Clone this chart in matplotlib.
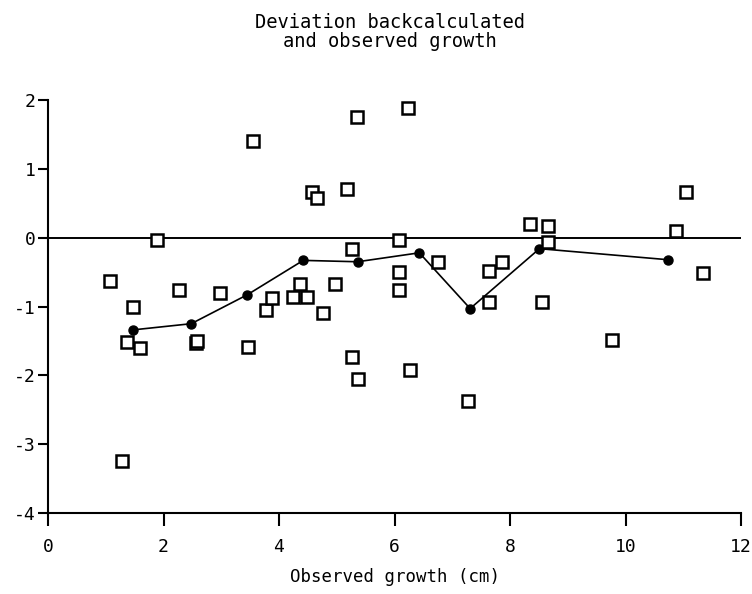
import matplotlib
matplotlib.use("Agg")
import matplotlib.pyplot as plt

# Open squares: individual observations
obs_x = [1.07, 1.47, 1.37, 1.59, 1.28, 1.89, 2.27, 2.56, 2.58, 2.98,
         3.55, 3.47, 3.78, 3.88, 4.25, 4.37, 4.49, 4.57, 4.66, 4.76,
         4.97, 5.18, 5.27, 5.35, 5.27, 5.37, 6.24, 6.07, 6.07, 6.08,
         6.27, 6.75, 7.27, 7.64, 7.87, 7.64, 8.35, 8.66, 8.66, 8.56,
         9.77, 11.04, 10.87, 11.35]
obs_y = [-0.63, -1.00, -1.51, -1.60, -3.25, -0.04, -0.76, -1.53, -1.50, -0.81,
         1.41, -1.59, -1.05, -0.87, -0.86, -0.67, -0.86, 0.66, 0.57, -1.09,
         -0.67, 0.70, -0.16, 1.75, -1.73, -2.05, 1.88, -0.03, -0.50, -0.76,
         -1.92, -0.35, -2.38, -0.48, -0.35, -0.93, 0.20, 0.17, -0.07, -0.93,
         -1.49, 0.67, 0.09, -0.51]

# Filled circles: class means joined by a line
mean_x = [1.47, 2.48, 3.45, 4.42, 5.36, 6.43, 7.31, 8.51, 10.73]
mean_y = [-1.34, -1.25, -0.83, -0.33, -0.35, -0.22, -1.03, -0.16, -0.32]

xticks = [0, 2, 4, 6, 8, 10, 12]
yticks = [-4, -3, -2, -1, 0, 1, 2]
title = "Deviation backcalculated\nand observed growth"
xlabel = "Observed growth (cm)"

plt.rcParams['font.family'] = ['DejaVu Sans Mono', 'DejaVu Sans']

fig = plt.figure(figsize=(7.52, 5.94), dpi=100)
ax = fig.add_axes([48/752, 1-513/594, (741-48)/752, (513-100)/594])

ax.axhline(0, color='black', lw=1.4, zorder=1)
ax.plot(mean_x, mean_y, color='black', lw=1.2, marker='o', ms=6.5,
        mfc='black', mec='black', zorder=3)
ax.plot(obs_x, obs_y, ls='none', marker='s', ms=8, mfc='white',
        mec='black', mew=1.8, zorder=4)

ax.set_xlim(0, 12)
ax.set_ylim(-4, 2)
ax.set_xticks(xticks)
ax.set_yticks(yticks)
ax.set_xticklabels([str(t) for t in xticks])
ax.set_yticklabels([str(t) for t in yticks])
for s in ['top', 'right']:
    ax.spines[s].set_visible(False)
for s in ['left', 'bottom']:
    ax.spines[s].set_linewidth(1.5)
ax.tick_params(axis='x', direction='out', length=9, width=1.5, pad=9, labelsize=13)
ax.tick_params(axis='y', direction='out', length=7, width=1.5, pad=2, labelsize=13)
ax.set_xlabel(xlabel, fontsize=12.5, labelpad=9)

fig.text(390/752, 1-32/594, title, ha='center', va='center', fontsize=13.5,
         linespacing=1.0)

fig.savefig("out.png", dpi=100)
